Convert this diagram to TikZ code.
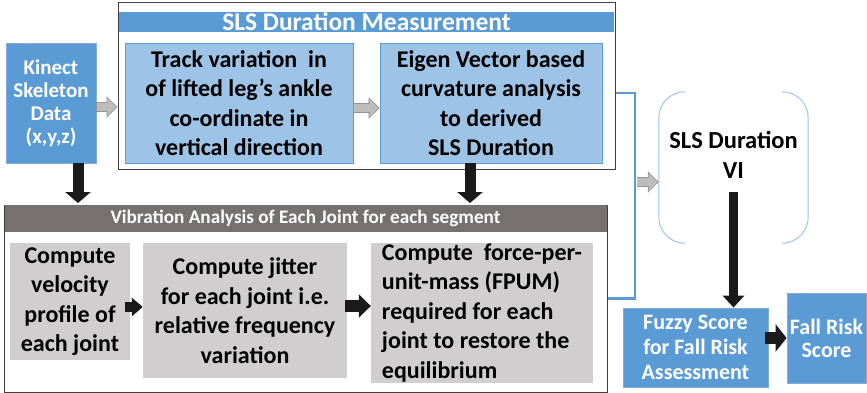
\documentclass[tikz,border=0pt]{standalone}
\usepackage{fontspec}
\setmainfont{Carlito}
\usetikzlibrary{arrows.meta,calc}

\definecolor{blueFill}{HTML}{5B9BD5}
\definecolor{blueLight}{HTML}{9DC3E6}
\definecolor{blueEdge}{HTML}{82ADDC}
\definecolor{grayBox}{HTML}{D0CECE}
\definecolor{grayTitle}{HTML}{767171}
\definecolor{frameEdge}{HTML}{404040}
\definecolor{arrowInk}{HTML}{1A1A1A}
\definecolor{arrowFill}{HTML}{BDBDBD}
\definecolor{arrowEdge}{HTML}{939393}

\tikzset{
  darkbox/.style={draw=blueEdge, fill=blueFill, line width=0.8pt, text=white,
    font=\fontsize{21}{23}\selectfont\bfseries, align=center, inner sep=0pt},
  lightbox/.style={draw=blueFill, fill=blueLight, line width=0.8pt,
    font=\fontsize{24}{29.5}\selectfont\bfseries, align=center, inner sep=0pt},
  greybox/.style={fill=grayBox, draw=none,
    font=\fontsize{24}{29.5}\selectfont\bfseries, align=center, inner sep=0pt},
  framebox/.style={draw=frameEdge, fill=white, line width=1pt, inner sep=0pt},
  titlebar/.style={inner sep=0pt, text=white, font=\bfseries},
  blkarrow/.style={draw=arrowInk, line width=11pt,
    -{Triangle[width=25pt,length=11pt]}},
  greyedge/.style={draw=arrowEdge, line width=10.5pt,
    -{Triangle[width=21pt,length=11pt]}},
  greyfill/.style={draw=arrowFill, line width=8.5pt, shorten <=0.9pt, shorten >=1.1pt,
    -{Triangle[width=17.5pt,length=9pt]}},
  bracketline/.style={draw=blueFill, line width=2.5pt},
  viedge/.style={draw=blueLight, line width=1pt, rounded corners=26pt},
}

\begin{document}
\begin{tikzpicture}[x=1pt,y=-1pt]
\useasboundingbox (0,0) rectangle (867,393);

% input data
\node[darkbox, minimum width=90pt, minimum height=120pt] (kin) at (51,103)
  {Kinect\\Skeleton\\Data\\(x,y,z)};

% SLS duration measurement block
\node[framebox, minimum width=497pt, minimum height=166pt] (sls) at (366.5,86) {};
\node[titlebar, fill=blueFill, minimum width=495pt, minimum height=20pt,
  font=\fontsize{25.5}{27}\selectfont\bfseries] (slstitle) at (366.5,22)
  {SLS Duration Measurement};
\node[lightbox, minimum width=228pt, minimum height=120pt] (trk) at (239,103)
  {Track variation~ in\\of lifted leg’s ankle\\co-ordinate in\\vertical direction};
\node[lightbox, minimum width=222pt, minimum height=120pt] (eig) at (491,103)
  {Eigen Vector based\\curvature analysis\\to derived\\SLS Duration};

% vibration analysis block
\node[framebox, minimum width=603pt, minimum height=187pt] (vib) at (305.5,298.5) {};
\node[titlebar, fill=grayTitle, minimum width=602pt, minimum height=27pt,
  font=\fontsize{19.2}{22}\selectfont\bfseries] (vibtitle) at (305.5,218.5)
  {Vibration Analysis of Each Joint for each segment};
\node[greybox, minimum width=120pt, minimum height=117pt] (vel) at (70,301.5)
  {Compute\\velocity\\profile of\\each joint};
\node[greybox, minimum width=204pt, minimum height=135pt] (jit) at (245,310.5)
  {Compute jitter\\for each joint i.e.\\relative frequency\\variation};
\node[greybox, minimum width=222pt, minimum height=140pt, align=left] (fpum) at (482,313)
  {Compute~ force-per-\\unit-mass (FPUM)\\required for each\\joint to restore the\\equilibrium};

% SLS duration VI
\node[minimum width=149pt, minimum height=151pt, inner sep=0pt] (vibox) at (733.5,167.5) {};
\draw[viedge] ([xshift=26pt]vibox.north west) -- (vibox.north west)
  -- (vibox.south west) -- ([xshift=26pt]vibox.south west);
\draw[viedge] ([xshift=-26pt]vibox.north east) -- (vibox.north east)
  -- (vibox.south east) -- ([xshift=-26pt]vibox.south east);
\node[font=\fontsize{24.5}{30}\selectfont\bfseries, align=center, inner sep=0pt]
  (vitext) at (733.5,155) {SLS Duration\\VI};

% scoring
\node[darkbox, minimum width=145pt, minimum height=79pt,
  font=\fontsize{22}{25}\selectfont\bfseries] (fuz) at (695.5,347.5)
  {Fuzzy Score\\for Fall Risk\\Assessment};
\node[darkbox, minimum width=79pt, minimum height=90pt,
  font=\fontsize{22}{23}\selectfont\bfseries] (fall) at (826.5,338)
  {Fall Risk\\Score};

% blue bracket joining both blocks
\coordinate (brk) at (635,182);
\draw[bracketline] ([yshift=-7pt]sls.east) -| (brk) |- (vib.east);

% grey block arrows
\draw[greyedge] ([yshift=-4pt]kin.east) -- ([yshift=-4pt]kin.east -| sls.west);
\draw[greyfill] ([yshift=-4pt]kin.east) -- ([yshift=-4pt]kin.east -| sls.west);
\draw[greyedge] ([yshift=-5pt]trk.east) -- ([yshift=-5pt]trk.east -| eig.west);
\draw[greyfill] ([yshift=-5pt]trk.east) -- ([yshift=-5pt]trk.east -| eig.west);
\draw[greyedge] ([xshift=1.5pt]brk) -- (brk -| vibox.west);
\draw[greyfill] ([xshift=1.5pt]brk) -- (brk -| vibox.west);

% black block arrows
\draw[blkarrow] ([xshift=27pt]kin.south) -- ([xshift=27pt,yshift=1.5pt]kin.south |- vib.north);
\draw[blkarrow] ([xshift=-21pt]eig.south) -- ([xshift=-21pt,yshift=1.5pt]eig.south |- vib.north);
\draw[blkarrow, line width=9pt, -{Triangle[width=21pt,length=12pt]}]
  ([yshift=-24pt]vibox.center) -- (vibox.center |- fuz.north);
\draw[blkarrow, line width=10pt, -{Triangle[width=18pt,length=11pt]}]
  ([xshift=-5pt,yshift=-5.5pt]vel.east) -- ([yshift=-5.5pt]vel.east -| jit.west);
\draw[blkarrow, line width=12pt, -{Triangle[width=23pt,length=12pt]}]
  ([xshift=-2pt,yshift=4.5pt]jit.east) -- ([yshift=4.5pt]jit.east -| fpum.west);
\draw[blkarrow, line width=12pt, -{Triangle[width=27pt,length=11pt]}]
  ([xshift=-3pt]fuz.east |- fall.west) -- (fall.west);
\end{tikzpicture}
\end{document}
